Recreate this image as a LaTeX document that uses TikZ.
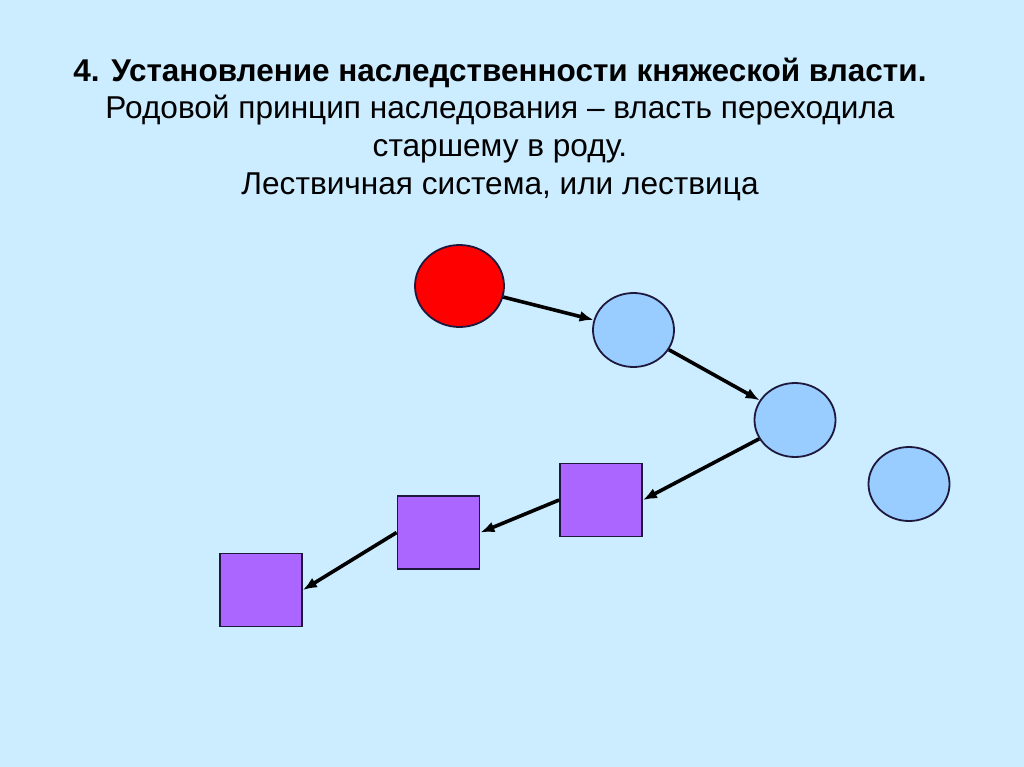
\documentclass[tikz,border=0pt]{standalone}
\usepackage{fontspec}
\setmainfont{Liberation Sans}
\usetikzlibrary{arrows.meta,shapes.geometric,positioning}
\definecolor{SlideBg}{RGB}{204,236,255}
\definecolor{ElderColor}{RGB}{255,0,0}
\definecolor{HeirColor}{RGB}{153,204,255}
\definecolor{YoungColor}{RGB}{170,102,255}
\definecolor{EdgeColor}{RGB}{30,25,60}
\tikzset{
  elder/.style={draw=EdgeColor,line width=1.8pt,ellipse,inner sep=0pt,
                minimum width=81pt,minimum height=74pt,fill=HeirColor},
  younger/.style={draw=EdgeColor,line width=1.8pt,rectangle,inner sep=0pt,
                minimum width=82pt,minimum height=73pt,fill=YoungColor},
  hod/.style={-{Latex[length=14pt,width=11pt]},line width=3.6pt},
  lineA/.style={anchor=base,font=\fontsize{31.5}{38}\selectfont\bfseries},
  lineB/.style={anchor=base,font=\fontsize{31.6}{37}\selectfont}
}
\begin{document}
\begin{tikzpicture}[x=1pt,y=-1pt]
\fill[SlideBg] (0,0) rectangle (1024,767);
\useasboundingbox (0,0) rectangle (1024,767);
% title
\node[lineA] (t1) at (500,82) {4. Установление наследственности княжеской власти.};
\node[lineB] (t2) at (500,119) {Родовой принцип наследования – власть переходила};
\node[lineB] (t3) at (500,157) {старшему в роду.};
\node[lineB] (t4) at (500,195) {Лествичная система, или лествица};
% ladder
\node[elder,fill=ElderColor,minimum width=89pt,minimum height=82pt] (r) at (459.5,286) {};
\node[elder] (b1) at (633.5,330) {};
\node[elder] (b2) at (795,420) {};
\node[elder] (b3) at (909,484) {};
\node[younger] (s3) at (601,500) {};
\node[younger] (s2) at (438.5,532.5) {};
\node[younger] (s1) at (261,590) {};
\draw[hod] (r) -- (b1);
\draw[hod] (b1) -- (b2);
\draw[hod] (b2) -- (s3.east);
\draw[hod] (s3.west) -- (s2.east);
\draw[hod] (s2.west) -- (s1.east);
\end{tikzpicture}
\end{document}
